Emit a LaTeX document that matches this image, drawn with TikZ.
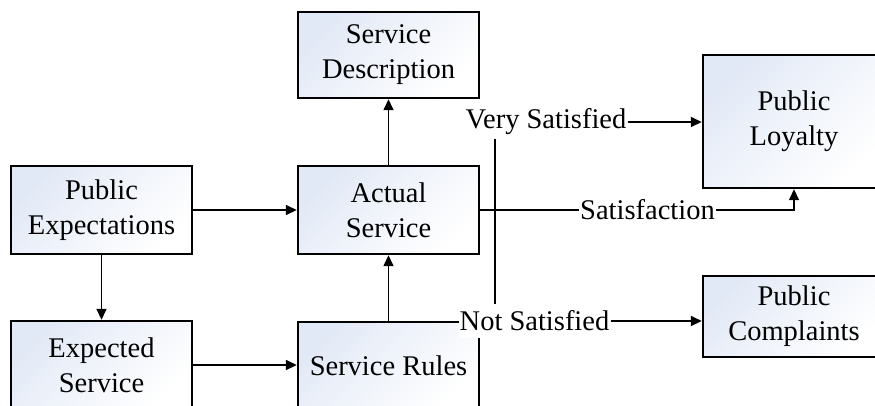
\documentclass[tikz,border=0pt]{standalone}
\usepackage{fontspec}
\setmainfont{Liberation Serif}
\usetikzlibrary{arrows.meta,calc}

\definecolor{boxtint}{RGB}{226,233,246}

\tikzset{
  box/.style={draw=black, line width=2.4pt, rectangle, inner sep=0pt,
    minimum width=181pt, minimum height=88pt, align=center,
    top color=boxtint, bottom color=white, shading angle=45,
    font=\fontsize{28.5}{35}\selectfont},
  link/.style={line width=1.5pt},
  arr/.style={link, -{Triangle[length=11pt,width=10pt]}},
  lbl/.style={fill=white, inner xsep=1pt, inner ysep=0pt, minimum height=34pt,
    font=\fontsize{28.5}{35}\selectfont}
}

\begin{document}
\begin{tikzpicture}[x=1pt, y=-1pt]
  \useasboundingbox (0,0) rectangle (875,405);
  \clip (0,0) rectangle (875,405);

  % boxes
  \node[box] (pe) at (101.5,210) {Public\\Expectations};
  \node[box, minimum height=86pt] (sd) at (388.5,55) {Service\\Description};
  \node[box] (as) at (388.5,210) {Actual\\Service};
  \node[box] (es) at (101.5,365) {Expected\\Service};
  \node[box] (sr) at (388.5,366) {Service Rules};
  \node[box, minimum width=182pt, minimum height=133pt] (pl) at (794,121.5) {Public\\Loyalty};
  \node[box, minimum width=182pt, minimum height=81pt] (pc) at (794,316.5) {Public\\Complaints};

  % plain links between boxes
  \draw[arr] (pe.east) -- (as.west);
  \draw[arr] (pe.south) -- (es.north);
  \draw[arr] (es.east) -- (es.east -| sr.west);
  \draw[arr] (sr.north) -- (as.south);
  \draw[arr] (as.north) -- (sd.south);

  % satisfaction branch
  \coordinate (up) at (794,210);
  \draw[arr] (as.east) -- (up) -- (up |- pl.south);
  \node[lbl] (sat) at (647.5,210) {Satisfaction};

  % outcome labels and the split line between them
  \node[lbl] (vs) at (546,122) {Very Satisfied};
  \node[lbl] (ns) at (534.5,321) {Not Satisfied};
  \draw[link] ([xshift=15pt]as.east |- vs.south) -- ([xshift=15pt]as.east |- ns.north);
  \draw[arr] (vs.east) -- (vs.east -| pl.west);
  \draw[arr] (ns.east) -- (ns.east -| pc.west);
\end{tikzpicture}
\end{document}
